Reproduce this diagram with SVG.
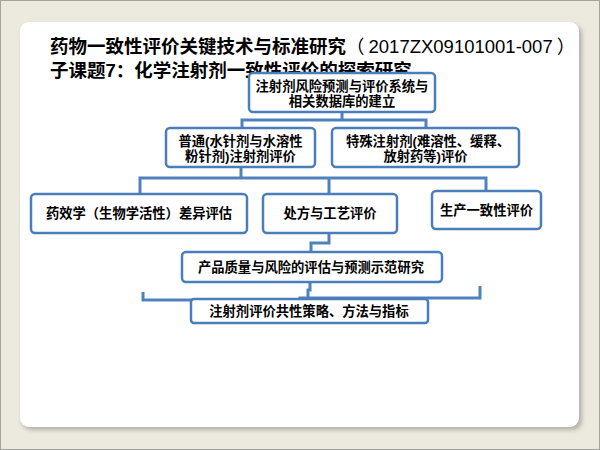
<svg xmlns="http://www.w3.org/2000/svg" width="600" height="450" viewBox="0 0 600 450">
  <defs>
    <filter id="shadow" x="-5%" y="-5%" width="110%" height="110%">
      <feGaussianBlur stdDeviation="2"/>
    </filter>
  </defs>
  <style>
    .node rect { fill: #ffffff; stroke: #4A7EBB; stroke-width: 2.5; }
    .node text { font-family: "Liberation Sans", "Noto Sans CJK SC", sans-serif; font-size: 13.3px; font-weight: bold; fill: #000; text-anchor: middle; }
    .conn { fill: none; stroke: #4F81BD; stroke-width: 3; stroke-linejoin: miter; }
    .title { font-family: "Liberation Sans", "Noto Sans CJK SC", sans-serif; font-size: 18.5px; font-weight: bold; fill: #000; }
  </style>
  <rect x="0" y="0" width="600" height="450" fill="#ECEADF"/>
  <rect x="0.5" y="0.5" width="599" height="449" fill="none" stroke="#A5A49C" stroke-width="1"/>
  <rect x="22" y="25" width="560" height="405" rx="9" fill="#8E8C84" opacity="0.6" filter="url(#shadow)"/>
  <rect x="20" y="22" width="559" height="405" rx="9" fill="#ffffff"/>

  <g id="title">
    <text class="title" x="50" y="53">药物一致性评价关键技术与标准研究<tspan font-weight="normal">（</tspan><tspan font-weight="normal" dx="4">2017ZX09101001-007</tspan><tspan font-weight="normal" dx="4">）</tspan></text>
    <text class="title" x="50" y="76.5">子课题7：化学注射剂一致性评价的探索研究</text>
  </g>

  <g id="connectors">
    <path class="conn" d="M342,112 V120 M242,128 V120 H426 V128"/>
    <path class="conn" d="M241,167 V178 M140,194 V178 H486 V191 M329,178 V194"/>
    <path class="conn" d="M329,233 V243 H311 V252"/>
    <path class="conn" d="M310,282 V290 H308 V299"/>
    <path class="conn" d="M143,292 V300 H300 V298 H480 V286"/>
  </g>

  <g id="node-top" class="node">
    <rect x="249" y="73" width="186" height="39" rx="4"/>
    <text x="342" y="91">注射剂风险预测与评价系统与</text>
    <text x="342" y="105.5">相关数据库的建立</text>
  </g>
  <g id="node-common" class="node">
    <rect x="166" y="128" width="149" height="39" rx="4"/>
    <text x="240.5" y="145.5">普通(水针剂与水溶性</text>
    <text x="240.5" y="160.5">粉针剂)注射剂评价</text>
  </g>
  <g id="node-special" class="node">
    <rect x="332" y="128" width="187" height="39" rx="4"/>
    <text x="428" y="145.5">特殊注射剂(难溶性、缓释、</text>
    <text x="425.5" y="160.5">放射药等)评价</text>
  </g>
  <g id="node-pharmacodynamics" class="node">
    <rect x="31" y="194" width="216" height="39" rx="4"/>
    <text x="139" y="218">药效学（生物学活性）差异评估</text>
  </g>
  <g id="node-formulation" class="node">
    <rect x="263" y="194" width="134" height="39" rx="4"/>
    <text x="330" y="218">处方与工艺评价</text>
  </g>
  <g id="node-production" class="node">
    <rect x="432" y="191" width="109" height="38" rx="4"/>
    <text x="486.5" y="214.5">生产一致性评价</text>
  </g>
  <g id="node-quality" class="node">
    <rect x="182" y="252" width="260" height="30" rx="4"/>
    <text x="311" y="272">产品质量与风险的评估与预测示范研究</text>
  </g>
  <g id="node-strategy" class="node">
    <rect x="191" y="299" width="237" height="24" rx="3"/>
    <text x="309" y="315.5">注射剂评价共性策略、方法与指标</text>
  </g>
</svg>
